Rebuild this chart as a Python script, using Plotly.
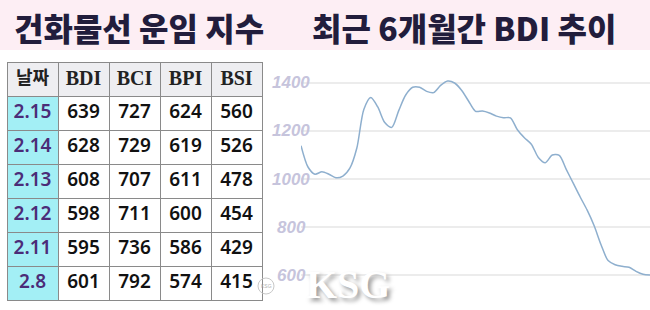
import plotly.graph_objects as go

W, H = 650, 310

# ---- data ----
title_left = "건화물선 운임 지수"
title_right = "최근 6개월간 BDI 추이"

header = ["날짜", "BDI", "BCI", "BPI", "BSI"]
dates = ["2.15", "2.14", "2.13", "2.12", "2.11", "2.8"]
bdi = [639, 628, 608, 598, 595, 601]
bci = [727, 729, 707, 711, 736, 792]
bpi = [624, 619, 611, 600, 586, 574]
bsi = [560, 526, 478, 454, 429, 415]

# BDI trend over the last ~6 months (evenly spaced samples)
bdi_trend = [1139, 1050, 1020, 1030, 1020, 1005, 1012, 1045, 1129, 1290,
             1340, 1300, 1235, 1215, 1285, 1350, 1382, 1382, 1365, 1360,
             1390, 1408, 1400, 1370, 1325, 1282, 1283, 1275, 1262, 1255,
             1255, 1205, 1172, 1145, 1090, 1068, 1100, 1098, 1040, 983,
             925, 870, 805, 725, 660, 643, 636, 632, 615, 603, 600]
y_ticks = [600, 800, 1000, 1200, 1400]

# ---- colours ----
band_col = "#fdeef4"
title_col = "#221d3c"
date_fill = "#a3eff5"
header_fill = "#eeeef1"
date_text = "#4b2c78"
border = "#8a8a8a"
line_col = "#8eafce"
tick_col = "#c6c4dc"
grid_col = "#ececec"

fig = go.Figure()

# table
n = len(dates)
fig.add_trace(go.Table(
    domain=dict(x=[7 / W, 262 / W], y=[0, 1 - 62 / H]),
    columnwidth=[1, 1, 1, 1, 1],
    header=dict(
        values=header,
        fill_color=header_fill,
        line=dict(color=border, width=1),
        align="center",
        height=34,
        font=dict(family=["Noto Sans CJK KR", "Liberation Serif", "Liberation Serif",
                          "Liberation Serif", "Liberation Serif"],
                  size=[18, 20, 20, 20, 20], color="#222222", weight="bold"),
    ),
    cells=dict(
        values=[dates, bdi, bci, bpi, bsi],
        fill_color=[[date_fill] * n, ["white"] * n, ["white"] * n, ["white"] * n, ["white"] * n],
        line=dict(color=border, width=1),
        align="center",
        height=34,
        font=dict(family="Noto Sans", size=19,
                  color=[[date_text] * n, ["#111111"] * n, ["#111111"] * n, ["#111111"] * n, ["#111111"] * n],
                  weight=600),
    ),
))

# line chart
fig.add_trace(go.Scatter(
    x=list(range(len(bdi_trend))), y=bdi_trend,
    mode="lines", line=dict(color=line_col, width=1.5, shape="spline", smoothing=0.8),
    hoverinfo="skip", showlegend=False,
))

annotations = [
    dict(text=title_left, x=12 / W, y=1 - 27 / H, xref="paper", yref="paper",
         xanchor="left", yanchor="middle", showarrow=False,
         font=dict(family="Noto Sans CJK KR", size=32, color=title_col, weight=900)),
    dict(text=title_right, x=310 / W, y=1 - 27 / H, xref="paper", yref="paper",
         xanchor="left", yanchor="middle", showarrow=False,
         font=dict(family="Noto Sans CJK KR", size=32, color=title_col, weight=900)),
]
for v in y_ticks:
    annotations.append(dict(text=f"<b><i>{v}</i></b>", x=291 / W, y=v, xref="paper", yref="y",
                            xanchor="center", yanchor="middle", showarrow=False,
                            font=dict(family="Liberation Sans", size=17, color=tick_col)))
# watermark
annotations.append(dict(text="KSG", x=348 / W, y=1 - 284 / H, xref="paper", yref="paper",
                        xanchor="center", yanchor="middle", showarrow=False,
                        font=dict(family="Liberation Serif", size=40, color="white",
                                  weight="bold", shadow="3px 3px 4px #9a9a9a")))
annotations.append(dict(text="KSG", x=266 / W, y=1 - 286 / H, xref="paper", yref="paper",
                        xanchor="center", yanchor="middle", showarrow=False,
                        font=dict(family="Liberation Sans", size=5, color="#b0b0b0")))

shapes = [
    dict(type="rect", xref="paper", yref="paper", x0=0, x1=1, y0=1 - 50 / H, y1=1,
         fillcolor=band_col, line=dict(width=0), layer="below"),
    dict(type="circle", xref="paper", yref="paper", x0=258 / W, x1=274 / W,
         y0=1 - 294 / H, y1=1 - 278 / H, line=dict(color="#c8c8c8", width=1)),
]

fig.update_layout(
    width=W, height=H, margin=dict(l=0, r=0, t=0, b=0),
    paper_bgcolor="white", plot_bgcolor="white",
    showlegend=False,
    xaxis=dict(domain=[301 / W, 1], range=[0, len(bdi_trend) - 1], visible=False, fixedrange=True),
    yaxis=dict(domain=[11 / H, 250 / H], range=[500, 1495.8], tickvals=y_ticks,
               showticklabels=False, showgrid=True, gridcolor=grid_col, gridwidth=1.5,
               zeroline=False, showline=False, ticks="", fixedrange=True),
    annotations=annotations,
    shapes=shapes,
)

fig.write_html("out.html", config={"displayModeBar": False})
